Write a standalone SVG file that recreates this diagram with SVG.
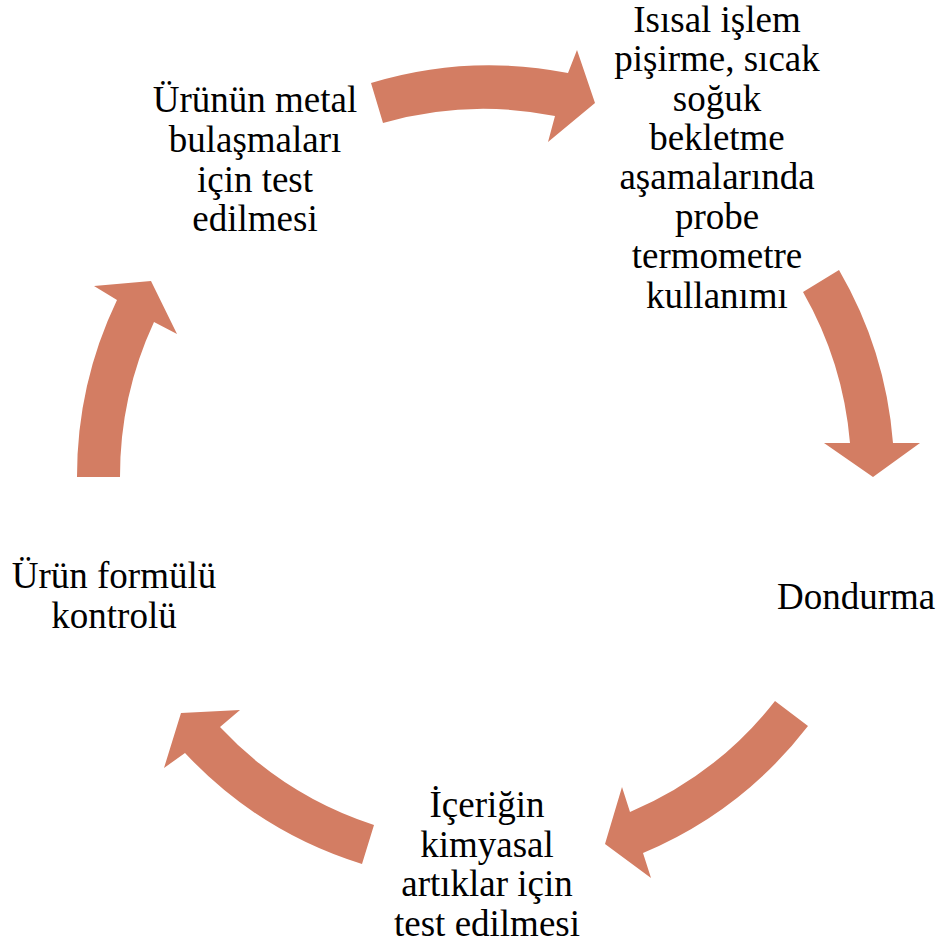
<svg xmlns="http://www.w3.org/2000/svg" width="936" height="946" viewBox="0 0 936 946">
<style>
.arr{fill:#D37D63;stroke:none}
text{font-family:'Liberation Serif','Times New Roman','DejaVu Serif',serif;font-size:37px;fill:#000;text-anchor:middle}
</style>
<rect width="936" height="946" fill="#fff"/>
<g id="connectors">
<path class="arr" d="M371,83 A408,408 0 0 1 568,73 L577,50 L595,103 L548,142 L555,116 A366,366 0 0 0 383,123 Z"/>
<path class="arr" d="M839,270 A408,408 0 0 1 893,443 L920,443 L873,477 L824,443 L850,443 A366,366 0 0 0 803,292 Z"/>
<path class="arr" d="M808,726 A408,408 0 0 1 643,853 L651,878 L605,844 L622,787 L630,812 A366,366 0 0 0 775,701 Z"/>
<path class="arr" d="M362,864 A408,408 0 0 1 185,753 L164,768 L181,713 L240,710 L220,727 A366,366 0 0 0 374,825 Z"/>
<path class="arr" d="M77,477 A408,408 0 0 1 117,300 L94,286 L151,281 L177,334 L154,322 A366,366 0 0 0 120,477 Z"/>
</g>
<g id="node-isisal" font-family="Liberation Serif, serif">
<text x="717" y="32">Isısal işlem</text>
<text x="717" y="71">pişirme, sıcak</text>
<text x="717" y="110.5">soğuk</text>
<text x="717" y="150">bekletme</text>
<text x="717" y="189">aşamalarında</text>
<text x="717" y="228.5">probe</text>
<text x="717" y="268">termometre</text>
<text x="717" y="307.5">kullanımı</text>
</g>
<g id="node-dondurma">
<text x="777" y="609" style="text-anchor:start">Dondurma</text>
</g>
<g id="node-icerigin">
<text x="487" y="817">İçeriğin</text>
<text x="487" y="856.5">kimyasal</text>
<text x="487" y="896">artıklar için</text>
<text x="487" y="935.5">test edilmesi</text>
</g>
<g id="node-formul">
<text x="114" y="588">Ürün formülü</text>
<text x="114" y="628">kontrolü</text>
</g>
<g id="node-metal">
<text x="255" y="112">Ürünün metal</text>
<text x="255" y="152">bulaşmaları</text>
<text x="255" y="191.5">için test</text>
<text x="255" y="231">edilmesi</text>
</g>
</svg>
